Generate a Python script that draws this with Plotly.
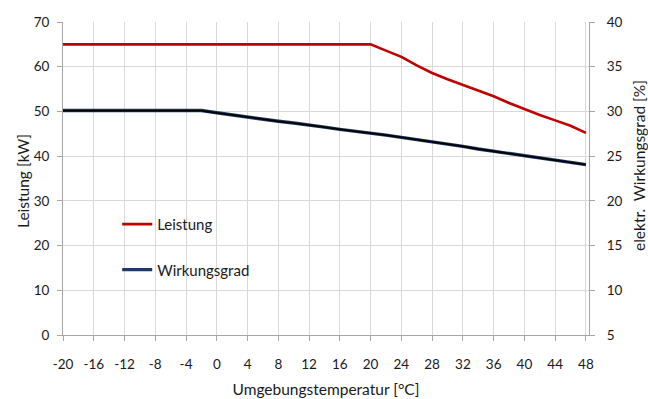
import plotly.graph_objects as go

temps = [-20, -18, -16, -14, -12, -10, -8, -6, -4, -2, 0, 2, 4, 6, 8, 10, 12, 14, 16, 18,
         20, 22, 24, 26, 28, 30, 32, 34, 36, 38, 40, 42, 44, 46, 48]
leistung = [65, 65, 65, 65, 65, 65, 65, 65, 65, 65, 65, 65, 65, 65, 65, 65, 65, 65, 65, 65,
            65, 63.6, 62.2, 60.3, 58.6, 57.2, 55.9, 54.7, 53.4, 51.9, 50.5, 49.2, 48.0, 46.8, 45.2]
wirkungsgrad = [30.1, 30.1, 30.1, 30.1, 30.1, 30.1, 30.1, 30.1, 30.1, 30.1, 29.85, 29.6, 29.4,
                29.1, 28.9, 28.7, 28.5, 28.25, 28.0, 27.8, 27.55, 27.35, 27.1, 26.85, 26.65,
                26.35, 26.1, 25.8, 25.55, 25.3, 25.05, 24.8, 24.55, 24.35, 24.05]
x_ticks = list(range(-20, 49, 4))
x_tick_labels = [str(v) for v in x_ticks]

FONT = "Lato"
RED = "#C00000"
NAVY = "#1F3864"
GRID = "#D9D9D9"
AXIS = "#A6A6A6"
TXT = "#1a1a1a"

L, R, T, B = 63, 59, 22, 64
PW = 648 - L - R
PH = 399 - T - B

fig = go.Figure()
fig.add_trace(go.Scatter(x=temps, y=leistung, name="Leistung", mode="lines",
                         line=dict(color=RED, width=2.6), legendgroup="a"))
fig.add_trace(go.Scatter(x=temps, y=wirkungsgrad, name="Wirkungsgrad", mode="lines",
                         line=dict(color=NAVY, width=3.4), yaxis="y2", legendgroup="b"))
fig.add_trace(go.Scatter(x=temps, y=wirkungsgrad, mode="lines", showlegend=False,
                         line=dict(color="#000000", width=1.8), yaxis="y2", hoverinfo="skip"))

fig.add_shape(type="rect", xref="paper", yref="paper", x0=0.057, x1=0.4125, y0=0.152, y1=0.4265,
              fillcolor="white", line=dict(width=0), layer="between")

fig.add_annotation(text="Leistung [kW]", xref="paper", yref="paper",
                   x=(23 - L) / PW, y=(399 - B - 181) / PH, textangle=-90,
                   showarrow=False, xanchor="center", yanchor="middle", borderpad=0,
                   font=dict(family=FONT, size=15.5, color=TXT))
fig.add_annotation(text="elektr.  Wirkungsgrad [%]", xref="paper", yref="paper",
                   x=(639 - L) / PW, y=(399 - B - 166) / PH, textangle=-90,
                   showarrow=False, xanchor="center", yanchor="middle", borderpad=0,
                   font=dict(family=FONT, size=15.5, color=TXT))

fig.update_layout(
    width=648, height=399,
    margin=dict(l=L, r=R, t=T, b=B),
    plot_bgcolor="white", paper_bgcolor="white",
    font=dict(family=FONT, size=13, color=TXT),
    showlegend=True,
    legend=dict(x=0.103, y=0.406, xanchor="left", yanchor="top", bgcolor="rgba(0,0,0,0)",
                font=dict(family=FONT, size=15, color=TXT), tracegroupgap=23,
                itemwidth=30),
    xaxis=dict(range=[-20, 48.4], tickvals=x_ticks, ticktext=x_tick_labels, showgrid=True,
               gridcolor=GRID, gridwidth=1, automargin=False,
               showline=True, linecolor=AXIS, linewidth=1, ticks="outside", ticklen=5,
               tickcolor=AXIS, zeroline=False, tickfont=dict(size=13.5), ticklabelstandoff=12,
               title=dict(text="Umgebungstemperatur [°C]", standoff=12,
                          font=dict(family=FONT, size=15.5, color=TXT))),
    yaxis=dict(range=[0, 70], dtick=10, showgrid=True, gridcolor=GRID, gridwidth=1,
               automargin=False,
               showline=True, linecolor=AXIS, linewidth=1, ticks="outside", ticklen=5,
               tickcolor=AXIS, zeroline=False, tickfont=dict(size=13.5), ticklabelstandoff=5),
    yaxis2=dict(range=[5, 40], dtick=5, overlaying="y", side="right", showgrid=False,
                automargin=False,
                showline=True, linecolor=AXIS, linewidth=1, ticks="outside", ticklen=5,
                tickcolor=AXIS, zeroline=False, tickfont=dict(size=13.5), ticklabelstandoff=9),
)

fig.write_html("out.html", config={"displayModeBar": False},
               post_script="document.body.style.margin='0';")
